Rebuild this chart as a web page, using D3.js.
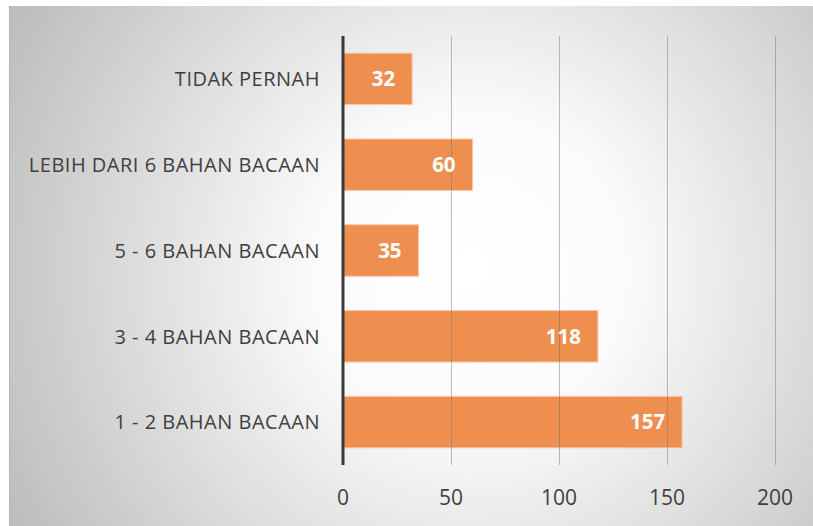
<!DOCTYPE html>
<html>
<head>
<meta charset="utf-8">
<script src="https://cdn.jsdelivr.net/npm/d3@7"></script>
<style>
  body { margin: 0; background: #fff; }
  svg { display: block; }
</style>
</head>
<body>
<svg id="chart" width="813" height="526"></svg>
<script>
const categories = ["TIDAK PERNAH", "LEBIH DARI 6 BAHAN BACAAN", "5 - 6 BAHAN BACAAN", "3 - 4 BAHAN BACAAN", "1 - 2 BAHAN BACAAN"];
const counts = [32, 60, 35, 118, 157];
const tickValues = [0, 50, 100, 150, 200];

const svg = d3.select("#chart");
const fontFamily = "'Open Sans', 'Liberation Sans', sans-serif";

// background with radial gradient
const defs = svg.append("defs");
const grad = defs.append("radialGradient")
    .attr("id", "bg")
    .attr("gradientUnits", "userSpaceOnUse")
    .attr("cx", 470).attr("cy", 270).attr("r", 520);
grad.append("stop").attr("offset", "0%").attr("stop-color", "#ffffff");
grad.append("stop").attr("offset", "30%").attr("stop-color", "#fbfbfb");
grad.append("stop").attr("offset", "100%").attr("stop-color", "#bdbdbd");

svg.append("rect")
    .attr("x", 9).attr("y", 6)
    .attr("width", 813 - 9).attr("height", 526 - 6)
    .attr("fill", "url(#bg)");
svg.append("line")
    .attr("x1", 9.5).attr("x2", 9.5).attr("y1", 6).attr("y2", 526)
    .attr("stroke", "#b5b5b5").attr("stroke-width", 1);

const x = d3.scaleLinear().domain([0, 200]).range([343, 775]);
const y = d3.scaleBand().domain(categories).range([36, 465])
    .paddingInner(0.4).paddingOuter(0.2);

// bars
svg.append("g").selectAll("rect")
    .data(categories)
    .join("rect")
    .attr("x", x(0))
    .attr("y", d => y(d))
    .attr("width", (d, i) => x(counts[i]) - x(0))
    .attr("height", y.bandwidth())
    .attr("fill", "#ee8f4f")
    .attr("stroke", "#f8c9a8")
    .attr("stroke-width", 1);

// gridlines on top
svg.append("g").selectAll("line")
    .data(tickValues.slice(1))
    .join("line")
    .attr("x1", d => x(d) + 0.5).attr("x2", d => x(d) + 0.5)
    .attr("y1", 36).attr("y2", 465)
    .attr("stroke", "rgba(110,110,110,0.45)")
    .attr("stroke-width", 1);

// vertical axis line
svg.append("line")
    .attr("x1", x(0)).attr("x2", x(0))
    .attr("y1", 36).attr("y2", 465)
    .attr("stroke", "#3a3a3a").attr("stroke-width", 3);

// value labels
svg.append("g").selectAll("text")
    .data(categories)
    .join("text")
    .attr("x", (d, i) => x(counts[i]) - 17)
    .attr("y", d => y(d) + y.bandwidth() / 2)
    .attr("dy", "0.36em")
    .attr("text-anchor", "end")
    .attr("font-family", fontFamily)
    .attr("font-size", 20.5)
    .attr("font-weight", "bold")
    .attr("fill", "#ffffff")
    .text((d, i) => counts[i]);

// category labels
svg.append("g").selectAll("text")
    .data(categories)
    .join("text")
    .attr("x", 320)
    .attr("y", d => y(d) + y.bandwidth() / 2)
    .attr("dy", "0.36em")
    .attr("text-anchor", "end")
    .attr("font-family", fontFamily)
    .attr("font-size", 20)
    .attr("letter-spacing", 0.5)
    .attr("fill", "#404040")
    .text(d => d);

// tick labels
svg.append("g").selectAll("text")
    .data(tickValues)
    .join("text")
    .attr("x", d => x(d))
    .attr("y", 497)
    .attr("dy", "0.36em")
    .attr("text-anchor", "middle")
    .attr("font-family", fontFamily)
    .attr("font-size", 21)
    .attr("fill", "#404040")
    .text(d => d);
</script>
</body>
</html>
